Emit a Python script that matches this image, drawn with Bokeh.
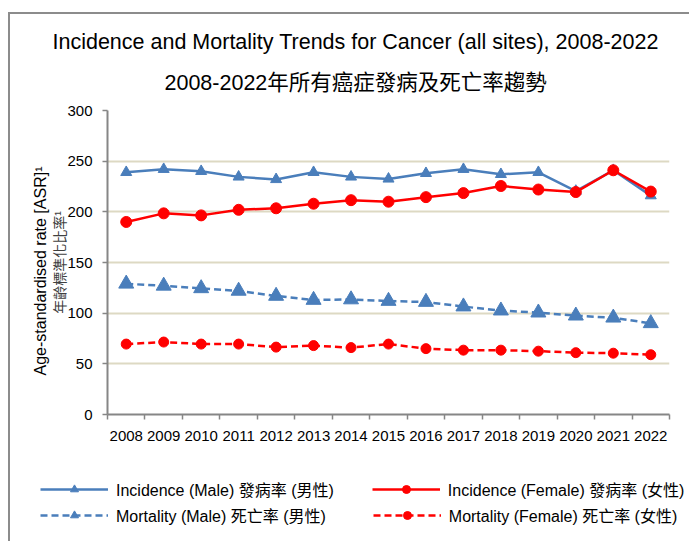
from bokeh.plotting import figure
from bokeh.models import Legend, LegendItem, FixedTicker, Range1d, Title
from bokeh.embed import file_html
from bokeh.resources import INLINE

years = [str(y) for y in range(2008, 2023)]
incidence_male = [239, 242, 240, 234.5, 232, 239, 234.5, 232.5, 238, 242, 237, 239, 220.5, 241, 216]
incidence_female = [190, 198.5, 196.5, 202, 203.5, 208, 211.5, 210, 214.5, 218.5, 225.5, 222, 219.5, 241, 220]
mortality_male = [129, 127, 124.5, 122, 117, 113, 113.5, 112, 111, 106.5, 102.5, 100.5, 97.5, 95.5, 90]
mortality_female = [69.5, 71.5, 69.5, 69.5, 66.5, 68, 66, 69.5, 65, 63.5, 63.5, 62.5, 61, 60.5, 59]
y_ticks = [0, 50, 100, 150, 200, 250, 300]

title_en = "Incidence and Mortality Trends for Cancer (all sites), 2008-2022"
title_zh = "2008-2022年所有癌症發病及死亡率趨勢"
ylabel_en = "Age-standardised rate [ASR]¹"
ylabel_zh = "年齡標準化比率¹"
labels = ["Incidence (Male) 發病率 (男性)", "Incidence (Female) 發病率 (女性)",
          "Mortality (Male) 死亡率 (男性)", "Mortality (Female) 死亡率 (女性)"]

FONT = "'Liberation Sans', 'Noto Sans CJK TC', sans-serif"
BLUE = "#4A7EBB"
RED = "#FF0000"
GRAY = "#868686"
BORDER = "2px solid #8c8c8c"

xs = [i + 0.5 for i in range(len(years))]

series = [
    (incidence_male, BLUE, "solid", "triangle", 11),
    (incidence_female, RED, "solid", "circle", 11),
    (mortality_male, BLUE, "7 4", "triangle", 15),
    (mortality_female, RED, "7 4", "circle", 10),
]

# ---------------- main chart ----------------
p = figure(frame_width=562, frame_height=304, output_backend="svg", toolbar_location=None,
           x_range=Range1d(0, len(years)), y_range=Range1d(y_ticks[0], y_ticks[-1]),
           min_border_left=97, min_border_right=20, min_border_top=96, min_border_bottom=40)
p.outline_line_color = None
p.xgrid.visible = False
p.ygrid.grid_line_color = "#DDD9C3"
p.ygrid.grid_line_width = 2
p.styles = {"margin-left": "8px", "margin-top": "12px",
            "border-left": BORDER, "border-top": BORDER}

p.xaxis.ticker = FixedTicker(ticks=xs, minor_ticks=list(range(len(years) + 1)))
p.xaxis.major_label_overrides = {x: y for x, y in zip(xs, years)}
p.xaxis.major_tick_out = 0
p.xaxis.major_tick_in = 0
p.xaxis.minor_tick_out = 5
p.xaxis.minor_tick_in = 0
p.xaxis.minor_tick_line_color = GRAY
p.xaxis.minor_tick_line_width = 1.5
p.xaxis.major_label_standoff = 11

p.yaxis.ticker = FixedTicker(ticks=y_ticks)
p.yaxis.major_tick_out = 5
p.yaxis.major_tick_in = 0
p.yaxis.minor_tick_out = 0
p.yaxis.minor_tick_in = 0
p.yaxis.major_label_standoff = 10
p.yaxis.major_tick_line_color = GRAY
p.yaxis.major_tick_line_width = 1.5
p.yaxis.axis_label = ylabel_zh
p.yaxis.axis_label_text_font = FONT
p.yaxis.axis_label_text_font_size = "14px"
p.yaxis.axis_label_text_font_style = "normal"
p.yaxis.axis_label_text_color = "#404040"
p.yaxis.axis_label_standoff = -4

for ax in (p.xaxis, p.yaxis):
    ax.axis_line_color = GRAY
    ax.axis_line_width = 2
    ax.major_label_text_font = FONT
    ax.major_label_text_font_size = "15px"
    ax.major_label_text_color = "#000000"

for vals, col, dash, mk, sz in series:
    p.line(xs, vals, line_color=col, line_width=2.5, line_dash=dash)
    p.scatter(xs, vals, marker=mk, size=sz, fill_color=col, line_color=col)

p.add_layout(Title(text=title_zh, align="left", offset=57, standoff=31, text_font=FONT,
                   text_font_size="21.5px", text_font_style="normal", text_color="#000000"), "above")
p.add_layout(Title(text=title_en, align="left", offset=-55, standoff=0, text_font=FONT,
                   text_font_size="21.5px", text_font_style="normal", text_color="#000000"), "above")
p.add_layout(Title(text=ylabel_en, align="left", offset=39, standoff=1, text_font=FONT,
                   text_font_size="16px", text_font_style="normal", text_color="#000000"), "left")

# ---------------- legend strip (separate root, no frame alignment) ----------------
lf = figure(width=679, height=87, output_backend="svg", toolbar_location=None,
            x_axis_type=None, y_axis_type=None, min_border=0,
            x_range=Range1d(0, len(years)), y_range=Range1d(1000, 1001))
lf.outline_line_color = None
lf.styles = {"margin-left": "8px", "border-left": BORDER}

items = []
for (vals, col, dash, mk, sz), lab in zip(series, labels):
    r1 = lf.line(xs, vals, line_color=col, line_width=2.5, line_dash=dash)
    r2 = lf.scatter(xs, vals, marker=mk, size=sz, fill_color=col, line_color=col)
    items.append(LegendItem(label=lab, renderers=[r1, r2]))

leg_kw = dict(orientation="horizontal",
              glyph_width=68, glyph_height=20, label_height=20, label_standoff=8,
              padding=0, margin=0, border_line_color=None, background_fill_alpha=0,
              label_text_font=FONT, label_text_font_size="16px", label_text_color="#000000")
leg1 = Legend(items=[items[0], items[1]], spacing=38, location=(30, 40), **leg_kw)
leg2 = Legend(items=[items[2], items[3]], spacing=47, location=(30, 14), **leg_kw)
lf.add_layout(leg1, "center")
lf.add_layout(leg2, "center")

open("out.html", "w").write(file_html([p, lf], INLINE))
